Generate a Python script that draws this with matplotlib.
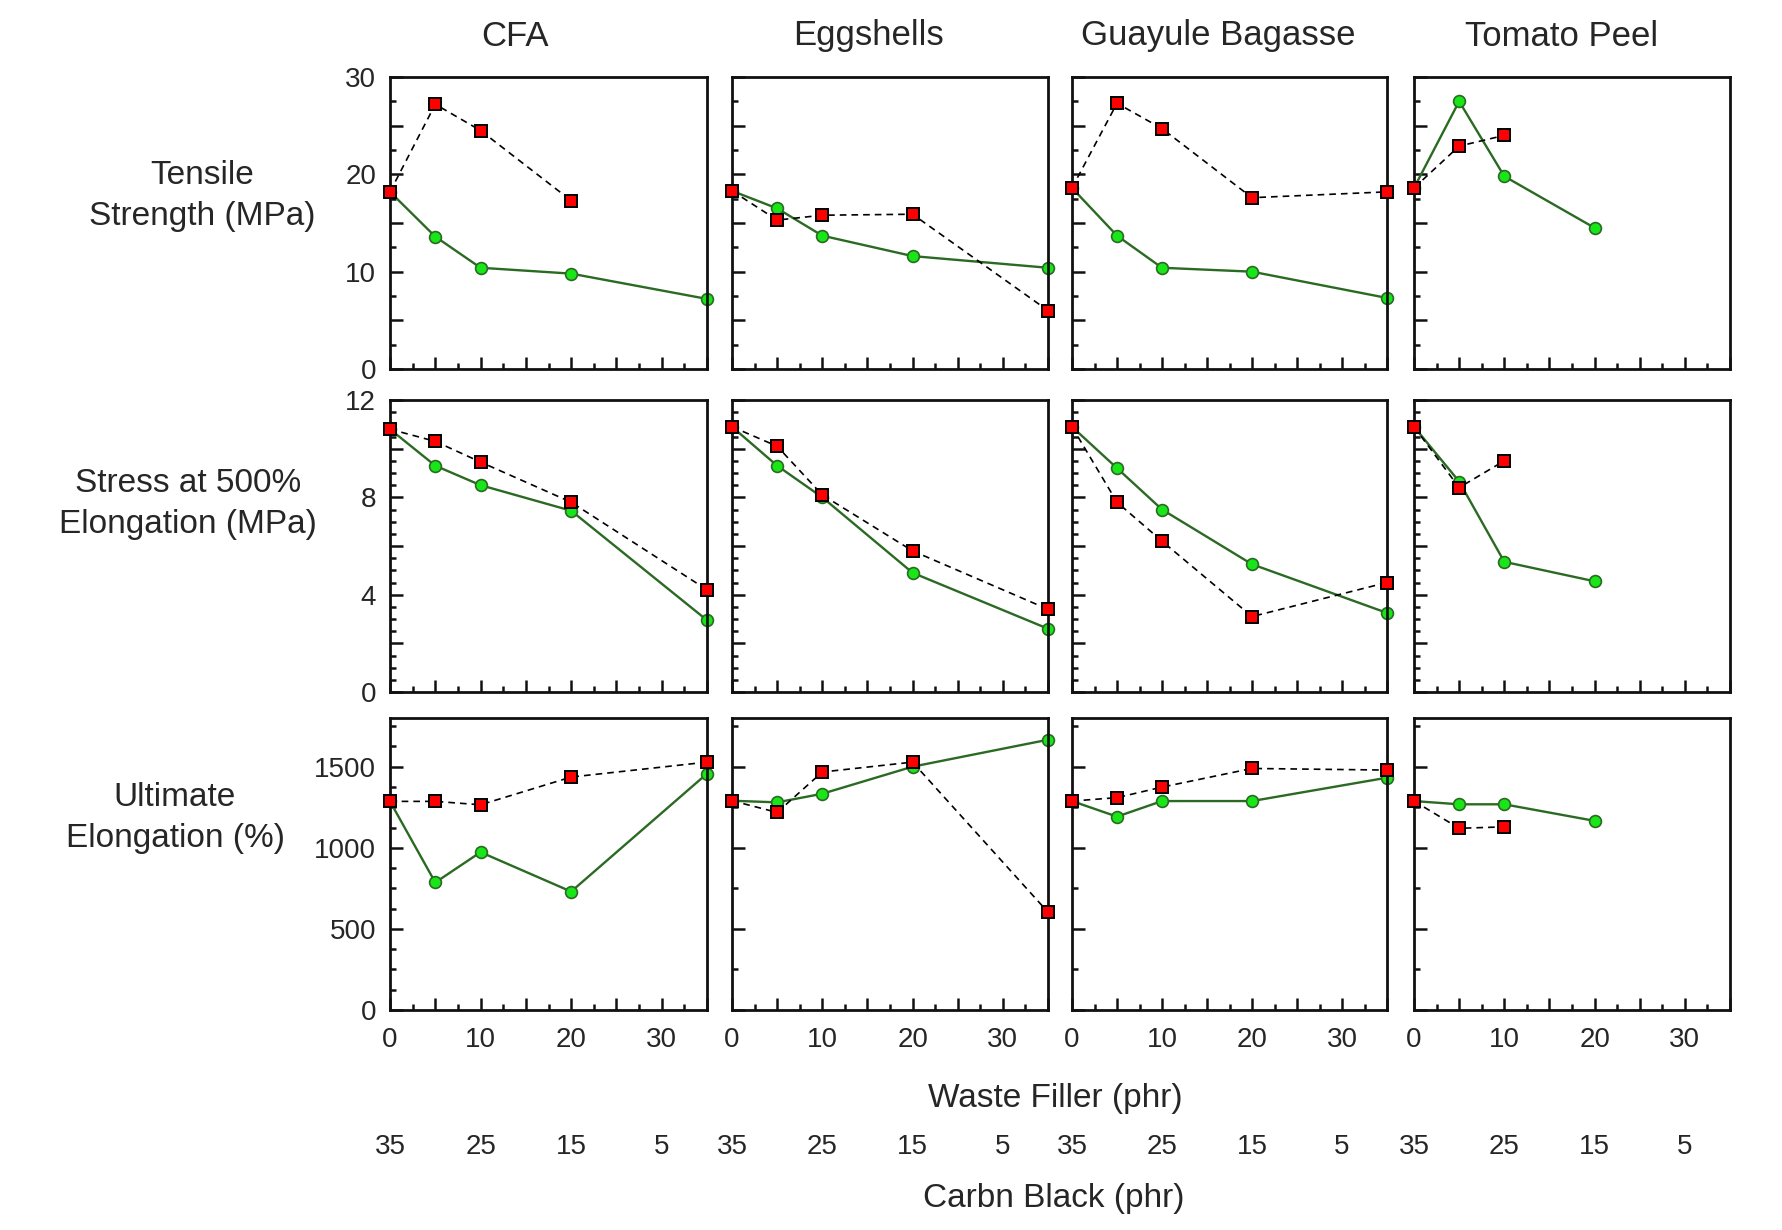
import matplotlib
matplotlib.use("Agg")
import matplotlib.pyplot as plt
from matplotlib.ticker import MultipleLocator, FuncFormatter
import numpy as np

plt.rcParams['font.family'] = ['Liberation Sans', 'DejaVu Sans']

# ---------------- data ----------------
fillers = ["CFA", "Eggshells", "Guayule Bagasse", "Tomato Peel"]
filler_phr = [0, 5, 10, 20, 35]
carbon_black_ticks = [0, 10, 20, 30]
carbon_black_labels = ["35", "25", "15", "5"]

row_labels = ["Tensile\nStrength (MPa)", "Stress at 500%\nElongation (MPa)", "Ultimate\nElongation (%)"]

# red squares (dashed black line), one list per filler; None = no point
tensile_sq = [
    [18.2, 27.2, 24.5, 17.3, None],
    [18.3, 15.3, 15.8, 15.9, 6.0],
    [18.6, 27.3, 24.7, 17.6, 18.2],
    [18.6, 22.9, 24.0, None, None],
]
# green circles (solid green line)
tensile_ci = [
    [18.2, 13.6, 10.4, 9.8, 7.2],
    [18.3, 16.5, 13.7, 11.6, 10.4],
    [18.6, 13.7, 10.4, 10.0, 7.3],
    [18.6, 27.5, 19.8, 14.5, None],
]
stress_sq = [
    [10.8, 10.3, 9.45, 7.8, 4.2],
    [10.9, 10.1, 8.1, 5.8, 3.4],
    [10.9, 7.8, 6.2, 3.1, 4.5],
    [10.9, 8.4, 9.5, None, None],
]
stress_ci = [
    [10.8, 9.3, 8.5, 7.45, 2.95],
    [10.9, 9.3, 8.0, 4.9, 2.6],
    [10.9, 9.2, 7.5, 5.25, 3.25],
    [10.9, 8.65, 5.35, 4.55, None],
]
elong_sq = [
    [1286, 1286, 1265, 1436, 1528],
    [1290, 1218, 1467, 1528, 603],
    [1288, 1309, 1374, 1489, 1479],
    [1288, 1120, 1129, None, None],
]
elong_ci = [
    [1286, 786, 973, 730, 1457],
    [1290, 1280, 1333, 1500, 1666],
    [1288, 1192, 1288, 1288, 1432],
    [1288, 1268, 1268, 1166, None],
]

rows_sq = [tensile_sq, stress_sq, elong_sq]
rows_ci = [tensile_ci, stress_ci, elong_ci]

y_lims = [(0, 30), (0, 12), (0, 1800)]
y_major = [5, 2, 500]
y_label_step = [10, 4, 500]
y_minor = [2.5, 0.5, 250]

# ---------------- layout ----------------
W, H = 1782, 1230
fig = plt.figure(figsize=(W / 100, H / 100), dpi=100)

col_px = [(390, 707), (732, 1048), (1072, 1387), (1414, 1730)]
row_px = [(77, 369), (400, 692), (718, 1010)]

tick_fs = 20
label_fs = 24
title_fs = 25
txtcol = "#262626"


def fmt_step(step):
    def f(v, pos):
        if abs(v / step - round(v / step)) < 1e-6:
            return "%d" % round(v)
        return ""
    return FuncFormatter(f)


axes = []
for r in range(3):
    for c in range(4):
        x0, x1 = col_px[c]
        y0, y1 = row_px[r]
        ax = fig.add_axes([x0 / W, 1 - y1 / H, (x1 - x0) / W, (y1 - y0) / H])
        xs = np.array(filler_phr, dtype=float)
        sq = np.array([np.nan if v is None else v for v in rows_sq[r][c]], dtype=float)
        ci = np.array([np.nan if v is None else v for v in rows_ci[r][c]], dtype=float)
        m_sq = ~np.isnan(sq)
        m_ci = ~np.isnan(ci)
        ax.plot(xs[m_sq], sq[m_sq], color="black", lw=1.2, ls=(0, (4, 3)),
                marker="s", ms=8.5, mfc="#ff0000", mec="black", mew=1.4,
                clip_on=False, zorder=3)
        ax.plot(xs[m_ci], ci[m_ci], color="#2a6a22", lw=1.7, ls="-",
                marker="o", ms=8.5, mfc="#19e619", mec="#2a6a22", mew=1.2,
                clip_on=False, zorder=2)

        ax.set_xlim(0, 35)
        ax.set_ylim(*y_lims[r])
        for s in ["top", "right", "left", "bottom"]:
            ax.spines[s].set_linewidth(2.0)
            ax.spines[s].set_color("#111111")

        ax.xaxis.set_major_locator(MultipleLocator(5))
        ax.xaxis.set_minor_locator(MultipleLocator(2.5))
        ax.yaxis.set_major_locator(MultipleLocator(y_major[r]))
        ymin_step = y_minor[r]
        if r == 2 and c == 0:
            ymin_step = 125
        ax.yaxis.set_minor_locator(MultipleLocator(ymin_step))
        ax.tick_params(which="both", direction="in", top=False, right=False,
                       width=1.8, color="#111111", labelsize=tick_fs, labelcolor=txtcol)
        ax.tick_params(which="major", length=9)
        ax.tick_params(which="minor", length=4.5)
        ax.tick_params(axis="y", pad=10)
        ax.tick_params(axis="x", pad=12)

        ax.xaxis.set_major_formatter(fmt_step(10))
        ax.yaxis.set_major_formatter(fmt_step(y_label_step[r]))
        if r != 2:
            ax.tick_params(axis="x", labelbottom=False)
        if c != 0:
            ax.tick_params(axis="y", labelleft=False)

        if r == 2:
            tr = ax.get_xaxis_transform()
            for xv, lab in zip(carbon_black_ticks, carbon_black_labels):
                ax.text(xv, -0.47, lab, transform=tr, ha="center", va="center",
                        fontsize=tick_fs, color=txtcol, clip_on=False)
        axes.append(ax)

# column titles
title_x = [515, 868, 1218, 1562]
for name, tx in zip(fillers, title_x):
    fig.text(tx / W, 1 - 36 / H, name, ha="center", va="center",
             fontsize=title_fs, color=txtcol)

# row labels
row_lab_pos = [(202, 196), (188, 504), (175, 818)]
for lab, (lx, ly) in zip(row_labels, row_lab_pos):
    fig.text(lx / W, 1 - ly / H, lab, ha="center", va="center",
             fontsize=label_fs, color=txtcol, linespacing=1.45)

fig.text(1055 / W, 1 - 1099 / H, "Waste Filler (phr)", ha="center", va="center",
         fontsize=label_fs, color=txtcol)
fig.text(1054 / W, 1 - 1198 / H, "Carbn Black (phr)", ha="center", va="center",
         fontsize=label_fs, color=txtcol)

fig.savefig("out.png", dpi=100, facecolor="white")
